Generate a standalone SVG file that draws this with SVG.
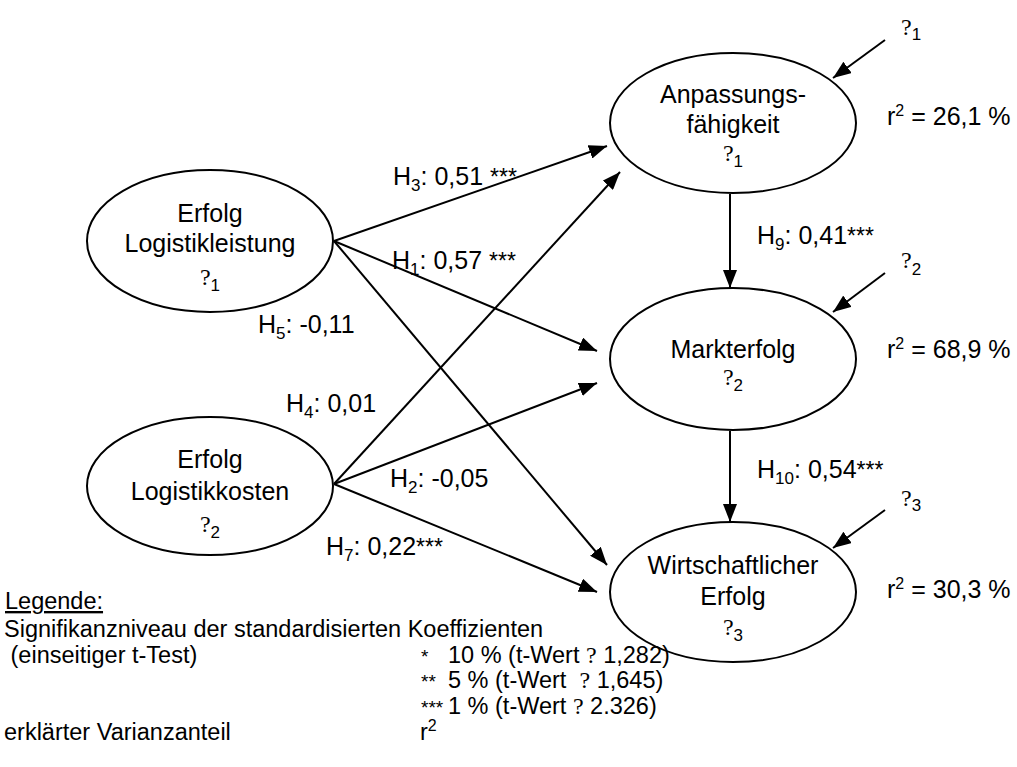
<svg xmlns="http://www.w3.org/2000/svg" width="1017" height="767" viewBox="0 0 1017 767">
<style>
text{font-family:"Liberation Sans",Arial,sans-serif;font-size:25px;fill:#000}
.c{text-anchor:middle}
.g{font-family:"Liberation Serif","Times New Roman",serif;font-size:24px}
.sub{font-size:17px}
.sup{font-size:16px}
.ast{font-size:23px}
.lg{font-size:23.5px}
.last{font-size:19px}
.node ellipse{fill:#fff;stroke:#000;stroke-width:2}
#connectors line{stroke:#000;stroke-width:2;marker-end:url(#ah)}
</style>
<defs>
<marker id="ah" markerUnits="userSpaceOnUse" markerWidth="20" markerHeight="14" refX="18" refY="7" orient="auto">
<path d="M0,0 L18,7 L0,14 Z" fill="#000"/>
</marker>
</defs>
<rect width="1017" height="767" fill="#fff"/>

<g id="connectors">
<line x1="334" y1="241" x2="607" y2="146"/>
<line x1="334" y1="241" x2="597" y2="351"/>
<line x1="334" y1="241" x2="607" y2="565"/>
<line x1="334" y1="484" x2="620" y2="172"/>
<line x1="334" y1="484" x2="597" y2="383"/>
<line x1="334" y1="484" x2="597" y2="592"/>
<line x1="730" y1="194" x2="730" y2="288"/>
<line x1="730" y1="431" x2="730" y2="522"/>
<line x1="885" y1="40" x2="833" y2="78"/>
<line x1="885" y1="273" x2="833" y2="312"/>
<line x1="885" y1="510" x2="833" y2="548"/>
</g>

<g id="node-logistikleistung" class="node">
<ellipse cx="210" cy="241" rx="123" ry="71"/>
<text class="c" x="210" y="222">Erfolg</text>
<text class="c" x="210" y="252">Logistikleistung</text>
<text class="c" x="210" y="285"><tspan class="g">?</tspan><tspan class="sub" dy="6">1</tspan></text>
</g>

<g id="node-logistikkosten" class="node">
<ellipse cx="210" cy="486" rx="123" ry="69"/>
<text class="c" x="210" y="468">Erfolg</text>
<text class="c" x="210" y="500">Logistikkosten</text>
<text class="c" x="210" y="532"><tspan class="g">?</tspan><tspan class="sub" dy="6">2</tspan></text>
</g>

<g id="node-anpassung" class="node">
<ellipse cx="733" cy="123" rx="123" ry="70"/>
<text class="c" x="733" y="103">Anpassungs-</text>
<text class="c" x="733" y="133">fähigkeit</text>
<text class="c" x="733" y="161"><tspan class="g">?</tspan><tspan class="sub" dy="6">1</tspan></text>
</g>

<g id="node-markterfolg" class="node">
<ellipse cx="733" cy="359" rx="123" ry="71"/>
<text class="c" x="733" y="358">Markterfolg</text>
<text class="c" x="733" y="385"><tspan class="g">?</tspan><tspan class="sub" dy="6">2</tspan></text>
</g>

<g id="node-wirtschaft" class="node">
<ellipse cx="733" cy="592" rx="123" ry="70"/>
<text class="c" x="733" y="574">Wirtschaftlicher</text>
<text class="c" x="733" y="605">Erfolg</text>
<text class="c" x="733" y="635"><tspan class="g">?</tspan><tspan class="sub" dy="6">3</tspan></text>
</g>

<g id="edge-labels">
<text x="393" y="185">H<tspan class="sub" dy="6">3</tspan><tspan dy="-6">: 0,51 </tspan><tspan class="ast">***</tspan></text>
<text x="392" y="269">H<tspan class="sub" dy="6">1</tspan><tspan dy="-6">: 0,57 </tspan><tspan class="ast">***</tspan></text>
<text x="258" y="333">H<tspan class="sub" dy="6">5</tspan><tspan dy="-6">: -0,11</tspan></text>
<text x="286" y="412">H<tspan class="sub" dy="6">4</tspan><tspan dy="-6">: 0,01</tspan></text>
<text x="390" y="487">H<tspan class="sub" dy="6">2</tspan><tspan dy="-6">: -0,05</tspan></text>
<text x="326" y="555">H<tspan class="sub" dy="6">7</tspan><tspan dy="-6">: 0,22</tspan><tspan class="ast">***</tspan></text>
<text x="757" y="244">H<tspan class="sub" dy="6">9</tspan><tspan dy="-6">: 0,41</tspan><tspan class="ast">***</tspan></text>
<text x="757" y="478">H<tspan class="sub" dy="6">10</tspan><tspan dy="-6">: 0,54</tspan><tspan class="ast">***</tspan></text>
</g>

<g id="errors">
<text x="901" y="35"><tspan class="g">?</tspan><tspan class="sub" dy="5">1</tspan></text>
<text x="901" y="268"><tspan class="g">?</tspan><tspan class="sub" dy="7">2</tspan></text>
<text x="901" y="506"><tspan class="g">?</tspan><tspan class="sub" dy="5">3</tspan></text>
</g>

<g id="r2">
<text x="887" y="125">r<tspan class="sup" dy="-9">2</tspan><tspan dy="9"> = 26,1 %</tspan></text>
<text x="887" y="358">r<tspan class="sup" dy="-9">2</tspan><tspan dy="9"> = 68,9 %</tspan></text>
<text x="887" y="598">r<tspan class="sup" dy="-9">2</tspan><tspan dy="9"> = 30,3 %</tspan></text>
</g>

<g id="legend">
<text class="lg" x="5" y="609" text-decoration="underline">Legende:</text>
<text class="lg" x="4" y="637">Signifikanzniveau der standardisierten Koeffizienten</text>
<text class="lg" x="4" y="663" xml:space="preserve"> (einseitiger t-Test)</text>
<text class="last" x="421" y="663">*</text>
<text class="lg" x="448" y="663">10 % (t-Wert <tspan class="g">?</tspan> 1,282)</text>
<text class="last" x="421" y="688">**</text>
<text class="lg" x="448" y="688" xml:space="preserve">5 % (t-Wert  <tspan class="g">?</tspan> 1,645)</text>
<text class="last" x="421" y="714">***</text>
<text class="lg" x="448" y="714">1 % (t-Wert <tspan class="g">?</tspan> 2.326)</text>
<text class="lg" x="4" y="740">erklärter Varianzanteil</text>
<text class="lg" x="420" y="740">r<tspan class="sup" dy="-9">2</tspan></text>
</g>
</svg>
